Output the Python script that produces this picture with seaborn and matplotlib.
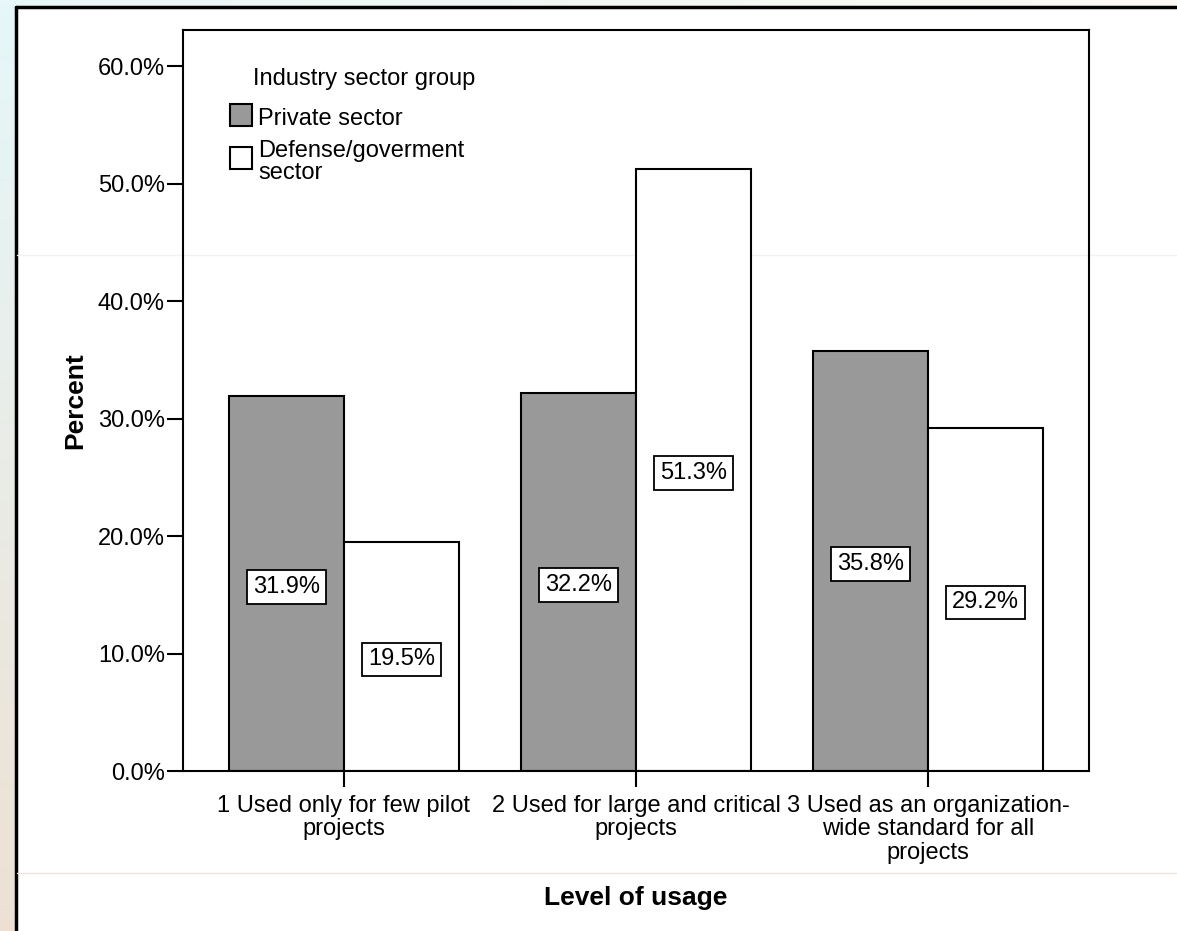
import numpy as np
import pandas as pd
import matplotlib
matplotlib.use("Agg")
import matplotlib.pyplot as plt
from matplotlib.lines import Line2D
from matplotlib.patches import Rectangle
import seaborn as sns

# ---- data -------------------------------------------------------------
usage_levels = [
    "1 Used only for few pilot\nprojects",
    "2 Used for large and critical\nprojects",
    "3 Used as an organization-\nwide standard for all\nprojects",
]
sectors = ["Private sector", "Defense/goverment\nsector"]
private_pct = [31.9, 32.2, 35.8]
defense_pct = [19.5, 51.3, 29.2]
y_ticks = [0, 10, 20, 30, 40, 50, 60]
y_tick_labels = ["0.0%", "10.0%", "20.0%", "30.0%", "40.0%", "50.0%", "60.0%"]
sector_colors = ["#999999", "#ffffff"]

df = pd.DataFrame({
    "usage": usage_levels * 2,
    "sector": [sectors[0]] * 3 + [sectors[1]] * 3,
    "percent": private_pct + defense_pct,
})

# ---- style ------------------------------------------------------------
sns.set_style("white")
plt.rcParams["font.family"] = ["Liberation Sans", "DejaVu Sans"]
for key in ["text.color", "axes.labelcolor", "xtick.color", "ytick.color", "axes.edgecolor"]:
    plt.rcParams[key] = "black"
FS = 17
W, H = 1177, 931


def fx(px):
    return px / W


def fy(py):
    return 1 - py / H


fig = plt.figure(figsize=(W / 100, H / 100), dpi=100, facecolor="white")

# soft gradient strips at the left and top edge of the page
strip = fig.add_axes([0, 0, fx(15), 1], zorder=0)
grad = np.linspace(0, 1, 256)[:, None]
top_c = np.array([0.90, 0.97, 0.98])
bot_c = np.array([0.93, 0.88, 0.83])
img = top_c[None, None, :] * (1 - grad[..., None]) + bot_c[None, None, :] * grad[..., None]
strip.imshow(img, aspect="auto", extent=[0, 1, 0, 1])
strip.axis("off")
topstrip = fig.add_axes([0, fy(6), 1, 6 / H], zorder=0)
gx = np.linspace(0, 1, 256)[None, :]
l_c = np.array([0.91, 0.97, 0.97])
r_c = np.array([0.99, 0.98, 0.95])
img2 = l_c[None, None, :] * (1 - gx[..., None]) + r_c[None, None, :] * gx[..., None]
topstrip.imshow(img2, aspect="auto", extent=[0, 1, 0, 1])
topstrip.axis("off")

# outer frame (left and top edges) and faint page rules
fig.add_artist(Line2D([fx(15.5), fx(15.5)], [0, fy(6.5)], color="black", lw=2.5,
                      transform=fig.transFigure, zorder=1))
fig.add_artist(Line2D([fx(15.5), 1], [fy(6.5), fy(6.5)], color="black", lw=2.5,
                      transform=fig.transFigure, zorder=1))
for yy, col in [(255, "#f1f1f1"), (873, "#ece6df")]:
    fig.add_artist(Line2D([fx(17), 1], [fy(yy), fy(yy)], color=col, lw=1,
                          transform=fig.transFigure, zorder=1))

ax = fig.add_axes([fx(183), fy(771), (1089 - 183) / W, (771 - 30) / H], zorder=2)
ax.patch.set_alpha(0)

sns.barplot(data=df, x="usage", y="percent", hue="sector",
            palette=sector_colors, edgecolor="black", linewidth=1.5,
            width=0.79, gap=0, saturation=1, ax=ax, legend=False)

# value boxes inside each bar
for container, vals in zip(ax.containers, [private_pct, defense_pct]):
    for bar, v in zip(container, vals):
        ax.text(bar.get_x() + bar.get_width() / 2, v / 2 - 0.25, f"{v:.1f}%",
                ha="center", va="center", fontsize=FS,
                bbox=dict(boxstyle="square,pad=0.25", facecolor="white",
                          edgecolor="black", linewidth=1.3))

ax.set_xlim(-0.551, 2.551)
ax.set_ylim(0, 63.1)
ax.set_yticks(y_ticks)
ax.set_yticklabels(y_tick_labels)
ax.tick_params(axis="both", which="major", direction="out", length=11.5, width=1.5,
               labelsize=FS, color="black", labelcolor="black", left=True, bottom=True)
ax.tick_params(axis="y", pad=1.5)
ax.tick_params(axis="x", pad=5.5)
for lbl in ax.get_xticklabels():
    lbl.set_linespacing(1.1)

for s in ax.spines.values():
    s.set_visible(True)
    s.set_color("black")
    s.set_linewidth(1.5)

ax.set_ylabel("Percent", fontsize=19, fontweight="bold", color="black")
ax.set_xlabel("Level of usage", fontsize=19, fontweight="bold", color="black")
ax.yaxis.set_label_coords(-0.106, 0.5)
ax.xaxis.set_label_coords(0.5, -0.155)

# legend: title, swatches and labels (baseline given for each label's last line)
fig.text(fx(253), fy(85), "Industry sector group", fontsize=FS, va="baseline", ha="left")
swatch_tops = [104, 147]
text_baselines = [125, 179]
for color, label, top, base in zip(sector_colors, sectors, swatch_tops, text_baselines):
    fig.add_artist(Rectangle((fx(230), fy(top + 22)), 22 / W, 22 / H,
                             facecolor=color, edgecolor="black", linewidth=1.5,
                             transform=fig.transFigure, zorder=3))
    fig.text(fx(258), fy(base), label, fontsize=FS, va="baseline", ha="left",
             linespacing=1.0, zorder=3)

fig.savefig("out.png", dpi=100, facecolor="white")
